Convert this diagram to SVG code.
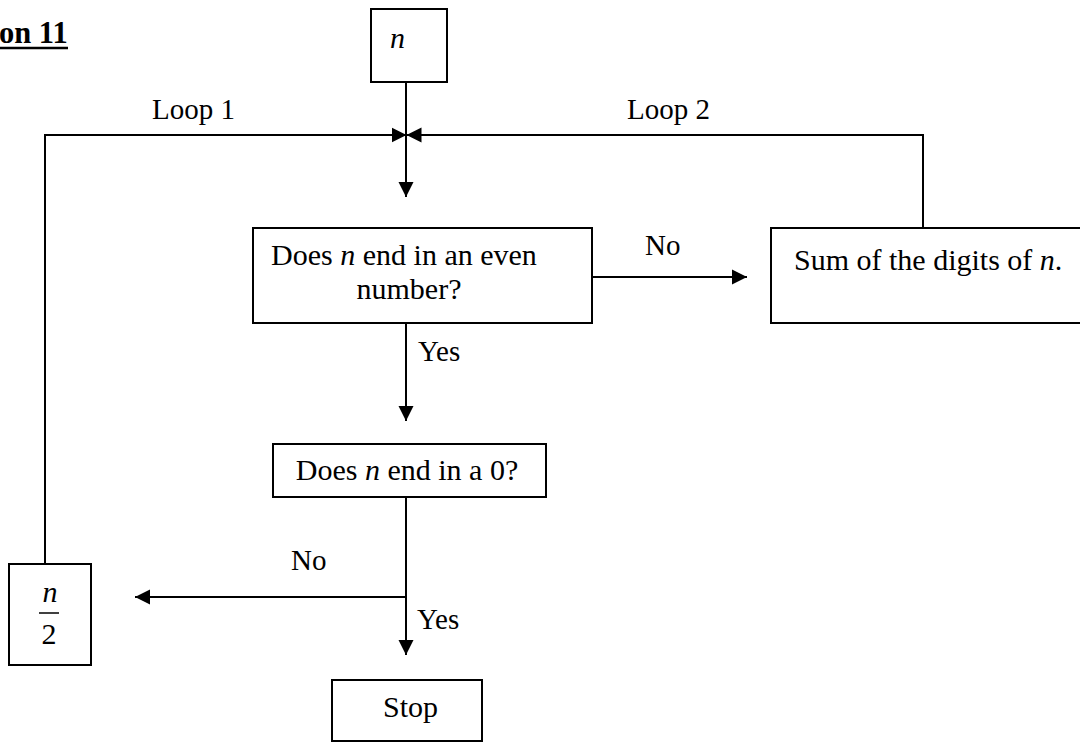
<svg xmlns="http://www.w3.org/2000/svg" width="1080" height="746" viewBox="0 0 1080 746">
<style>
text{font-family:"Liberation Serif","Times New Roman",serif;font-size:29px;fill:#000}
.b{font-size:30px}
.i{font-style:italic}
.box{fill:#fff;stroke:#000;stroke-width:2}
.ln{fill:none;stroke:#000;stroke-width:2}
.arr{marker-end:url(#ah)}
</style>
<defs>
<marker id="ah" markerUnits="userSpaceOnUse" markerWidth="16" markerHeight="16" viewBox="0 0 16 16" refX="15" refY="8" orient="auto">
<path d="M0,0.5 L15,8 L0,15.5 Z" fill="#000"/>
</marker>
</defs>
<rect width="1080" height="746" fill="#fff"/>
<g id="title">
<text x="-1" y="43" style="font-weight:bold;font-size:30.5px">on 11</text>
<line x1="0" y1="48" x2="68" y2="48" stroke="#000" stroke-width="2.5"/>
</g>
<g id="connectors">
<path class="ln arr" d="M406,82 V197"/>
<path class="ln arr" d="M45,564 V135 H406.5"/>
<path class="ln arr" d="M923,228 V135 H406.5"/>
<path class="ln arr" d="M592,277 H747"/>
<path class="ln arr" d="M406,323 V421"/>
<path class="ln arr" d="M406,497 V655"/>
<path class="ln arr" d="M406,597 H135"/>
<text x="152" y="119">Loop 1</text>
<text x="627" y="119">Loop 2</text>
<text x="645" y="255">No</text>
<text x="418" y="361">Yes</text>
<text x="291" y="570">No</text>
<text x="417" y="629">Yes</text>
</g>
<g id="start">
<rect class="box" x="371" y="9" width="76" height="73"/>
<text class="i b" x="390" y="48">n</text>
</g>
<g id="even">
<rect class="box" x="253" y="228" width="339" height="95"/>
<text class="b" x="404" y="265" text-anchor="middle">Does <tspan class="i">n</tspan> end in an even</text>
<text class="b" x="409" y="299" text-anchor="middle">number?</text>
</g>
<g id="sum">
<rect class="box" x="771" y="228" width="330" height="95"/>
<text x="794" y="270" class="b">Sum of the digits of <tspan class="i">n</tspan>.</text>
</g>
<g id="zero">
<rect class="box" x="273" y="444" width="273" height="53"/>
<text class="b" x="407" y="480" text-anchor="middle">Does <tspan class="i">n</tspan> end in a 0?</text>
</g>
<g id="half">
<rect class="box" x="9" y="564" width="82" height="101"/>
<text class="i b" x="50" y="602" text-anchor="middle">n</text>
<line x1="39" y1="613" x2="59" y2="613" stroke="#000" stroke-width="1.5"/>
<text class="b" x="49" y="644" text-anchor="middle">2</text>
</g>
<g id="stop">
<rect class="box" x="332" y="680" width="150" height="61"/>
<text class="b" x="383" y="717">Stop</text>
</g>
</svg>
